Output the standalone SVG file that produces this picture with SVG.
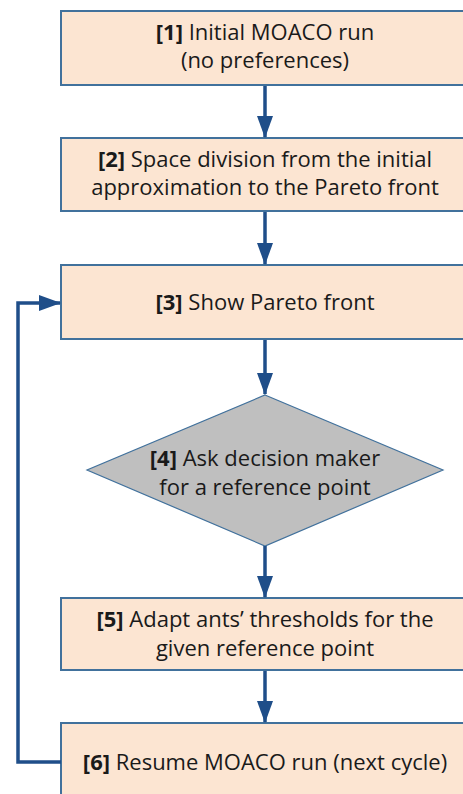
<svg xmlns="http://www.w3.org/2000/svg" width="463" height="794" viewBox="0 0 463 794">
<defs>
<marker id="ah" viewBox="0 0 22 16" refX="21" refY="8" markerWidth="22" markerHeight="16" orient="auto" markerUnits="userSpaceOnUse">
<path d="M0,0 L22,8 L0,16 z" fill="#1F4E89"/>
</marker>
</defs>
<style>
.box{fill:#FCE5D2;stroke:#41719C;stroke-width:2}
.dia{fill:#BFBFBF;stroke:#41719C;stroke-width:1.2}
.t{font-family:"Open Sans","Noto Sans",sans-serif;font-size:22px;fill:#1a1a1a;text-anchor:middle}
.b{font-weight:bold}
.c{fill:none;stroke:#1F4E89;stroke-width:3.5;marker-end:url(#ah)}
</style>
<rect width="463" height="794" fill="#fff"/>
<g id="n1">
<rect class="box" x="61" y="11" width="420" height="74"/>
<text class="t" x="265" y="40"><tspan class="b">[1]</tspan> Initial MOACO run</text>
<text class="t" x="265" y="68">(no preferences)</text>
</g>
<g id="n2">
<rect class="box" x="61" y="138" width="420" height="73"/>
<text class="t" x="265" y="167"><tspan class="b">[2]</tspan> Space division from the initial</text>
<text class="t" x="265" y="195">approximation to the Pareto front</text>
</g>
<g id="n3">
<rect class="box" x="61" y="265" width="420" height="74"/>
<text class="t" x="265" y="310"><tspan class="b">[3]</tspan> Show Pareto front</text>
</g>
<g id="n4">
<polygon class="dia" points="265,395 443,470 265,546 87,470"/>
<text class="t" x="265" y="466"><tspan class="b">[4]</tspan> Ask decision maker</text>
<text class="t" x="265" y="495">for a reference point</text>
</g>
<g id="n5">
<rect class="box" x="61" y="598" width="420" height="72"/>
<text class="t" x="265" y="627"><tspan class="b">[5]</tspan> Adapt ants’ thresholds for the</text>
<text class="t" x="265" y="656">given reference point</text>
</g>
<g id="n6">
<rect class="box" x="61" y="723" width="420" height="90"/>
<text class="t" x="265" y="770"><tspan class="b">[6]</tspan> Resume MOACO run (next cycle)</text>
</g>
<g id="connectors">
<line class="c" x1="265" y1="86" x2="265" y2="137"/>
<line class="c" x1="265" y1="212" x2="265" y2="264"/>
<line class="c" x1="265" y1="340" x2="265" y2="394"/>
<line class="c" x1="265" y1="546" x2="265" y2="597"/>
<line class="c" x1="265" y1="671" x2="265" y2="722"/>
<polyline class="c" points="61,762 18,762 18,303 60,303"/>
</g>
</svg>
